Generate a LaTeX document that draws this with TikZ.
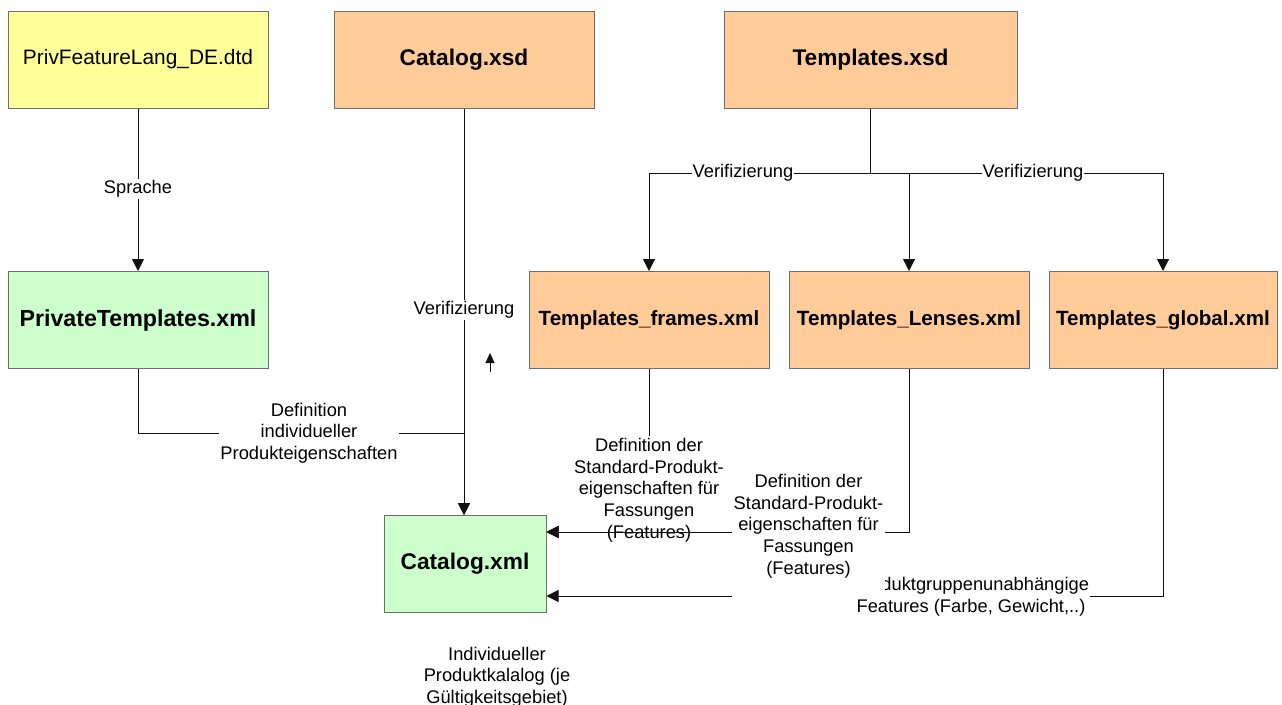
\documentclass[tikz,border=0pt]{standalone}
\usepackage{fontspec}
\setmainfont{Liberation Sans}
\usetikzlibrary{arrows.meta}
\definecolor{yel}{HTML}{FFFF99}
\definecolor{org}{HTML}{FFCC99}
\definecolor{grn}{HTML}{CCFFCC}
\definecolor{bord}{HTML}{6E6E6E}
\definecolor{wire}{HTML}{111111}
\begin{document}
\begin{tikzpicture}[x=1pt,y=-1pt,
  box/.style={draw=bord,line width=1pt,minimum width=#1,minimum height=97pt,inner sep=0pt,align=center},
  bigbold/.style={font=\fontsize{22.7}{26}\selectfont\bfseries},
  ptbold/.style={font=\fontsize{23.2}{26}\selectfont\bfseries},
  midbold/.style={font=\fontsize{20.6}{24}\selectfont\bfseries},
  regtxt/.style={font=\fontsize{20.9}{24}\selectfont},
  lbl/.style={font=\fontsize{18.3}{21.7}\selectfont,fill=white,inner sep=1pt,align=center},
  wirel/.style={draw=wire,line width=1pt},
  arr/.style={wirel,-{Triangle[length=12pt,width=12pt]}},
  smallarr/.style={wirel,-{Triangle[length=10pt,width=9pt]}}]
\useasboundingbox (0,0) rectangle (1282,704);

% boxes
\node[box=260pt,fill=yel,regtxt] (dtd) at (138,59.5) {PrivFeatureLang\_DE.dtd};
\node[box=260pt,fill=org,bigbold] (cxsd) at (464,59.5) {Catalog.xsd};
\node[box=293pt,fill=org,bigbold] (txsd) at (870.5,59.5) {Templates.xsd};
\node[box=260pt,fill=grn,ptbold] (ptx) at (138,320) {PrivateTemplates.xml};
\node[box=240pt,fill=org,midbold] (tfr) at (649,320) {Templates\_frames.xml};
\node[box=240pt,fill=org,midbold] (tle) at (909,320) {Templates\_Lenses.xml};
\node[box=228pt,fill=org,midbold] (tgl) at (1163,320) {Templates\_global.xml};
\node[box=162pt,fill=grn,bigbold] (cxml) at (465,564) {Catalog.xml};

% junctions
\coordinate (pj) at (464,433);
\coordinate (tj) at (870.5,173);
\coordinate (sa) at (490,372);
\coordinate (sb) at (490,353);

% PrivFeatureLang -> PrivateTemplates
\draw[arr] (dtd) -- (ptx);
\node[lbl] (lsp) at (138,189) {Sprache};

% Catalog.xsd -> Catalog.xml
\draw[arr] (cxsd.south) -- (cxsd.south |- cxml.north);
\node[lbl] (lv1) at (464,310) {Verifizierung};

% PrivateTemplates -> Catalog.xml
\draw[arr] (ptx.south) |- (pj) -- (pj |- cxml.north);
\node[lbl] (ldi) at (309,433) {Definition\\individueller\\Produkteigenschaften};

% Templates.xsd -> templates
\draw[wirel] (txsd) -- (tj);
\draw[arr] (tj) -| (tfr.north);
\draw[arr] (tj) -| (tle.north);
\draw[arr] (tj) -| (tgl.north);
\node[lbl] (lv2) at (743,173) {Verifizierung};
\node[lbl] (lv3) at (1033,173) {Verifizierung};

% stray arrow
\draw[smallarr] (sa) -- (sb);

% frames -> Catalog.xml
\draw[arr] (tfr.south) |- ([yshift=32pt]cxml.east);
\node[lbl,inner sep=2pt] (lfr) at (649,490) {Definition der\\Standard-Produkt-\\eigenschaften für\\Fassungen\\(Features)};

% lenses, global -> Catalog.xml
\draw[arr] (tle.south) |- ([yshift=32pt]cxml.east);
\draw[arr] (tgl.south) |- ([yshift=-32pt]cxml.east);
\node[lbl] (lgl) at (971,597) {Produktgruppenunabhängige\\Features (Farbe, Gewicht,..)};
\node[lbl,minimum width=153pt,minimum height=142pt] (lle) at (808.5,526) {Definition der\\Standard-Produkt-\\eigenschaften für\\Fassungen\\(Features)};

% caption under Catalog.xml
\node[font=\fontsize{18.3}{21.7}\selectfont,align=center,inner sep=0pt] (cap) at (497,677) {Individueller\\Produktkalalog (je\\Gültigkeitsgebiet)};
\end{tikzpicture}
\end{document}
